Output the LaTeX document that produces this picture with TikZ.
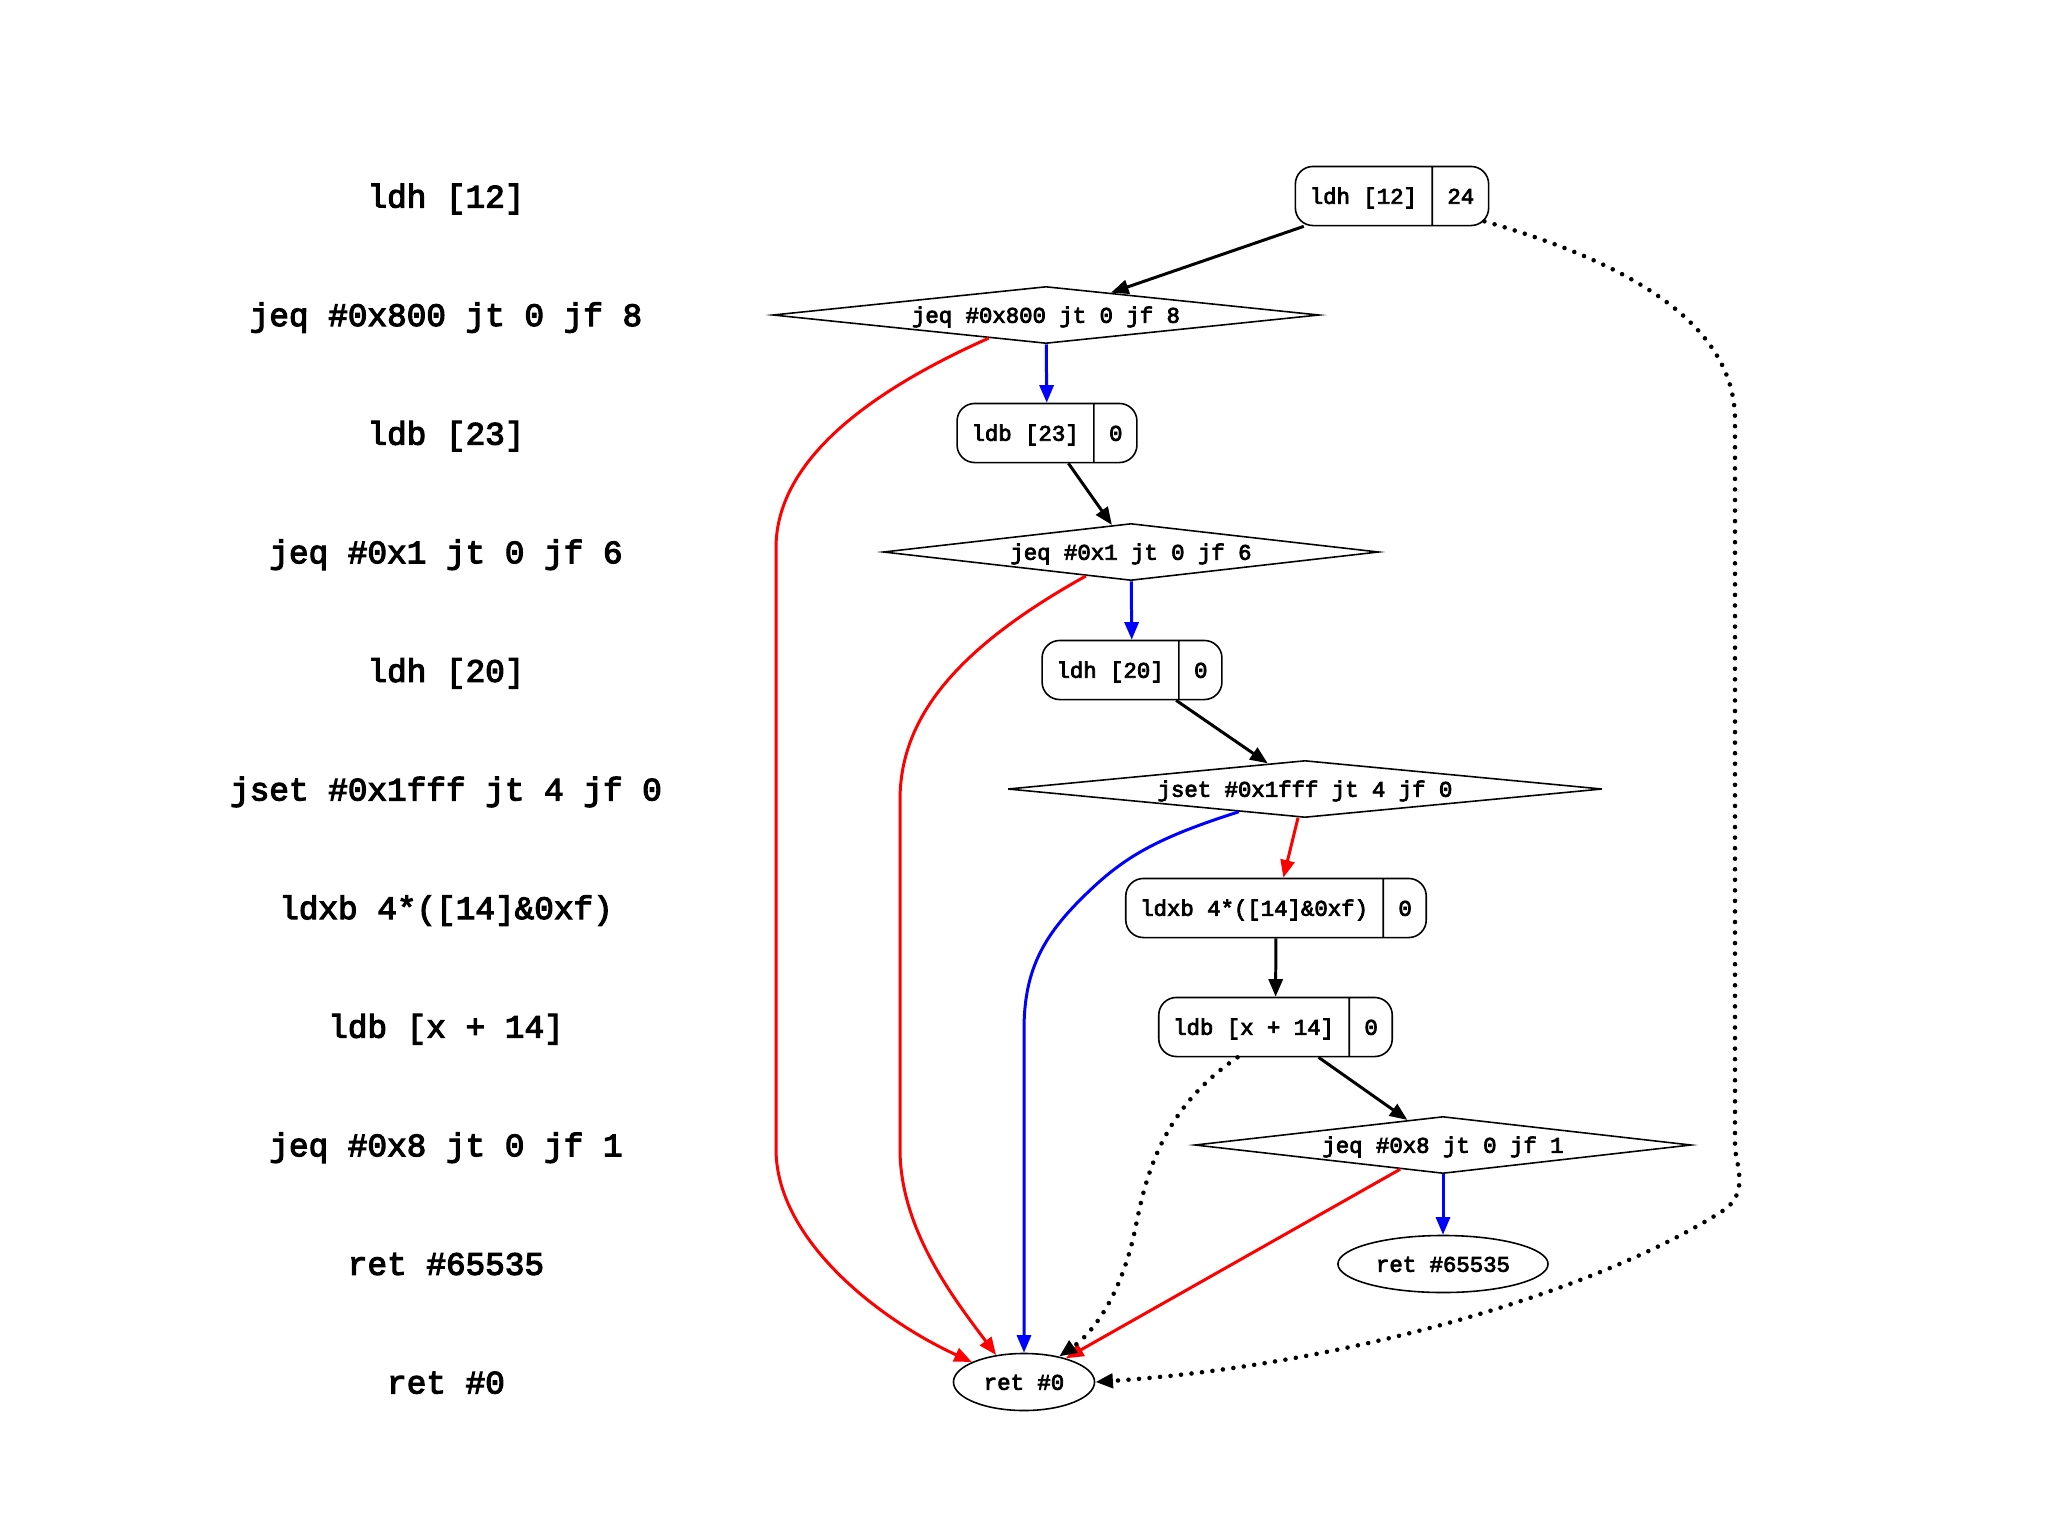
\documentclass[tikz,border=0pt]{standalone}
\usepackage{fontspec}
\setmonofont{Liberation Mono}[FakeBold=3.5]
\usetikzlibrary{shapes.geometric,shapes.multipart,arrows.meta,calc}

\newcommand{\nodefont}{\ttfamily\fontsize{6.35}{8}\selectfont}
\newcommand{\insnfont}{\ttfamily\fontsize{9.3}{11}\selectfont}
\newcommand{\pad}{\rule[-1.8pt]{0pt}{8pt}}

\begin{document}
\begin{tikzpicture}[x=0.01cm, y=-0.01cm,
    rec/.style={rectangle split, rectangle split horizontal, rectangle split parts=2,
      draw, rounded corners=5pt, inner xsep=4.1pt, inner ysep=4.4pt, line width=0.45pt, font=\nodefont},
    cond/.style={diamond, draw, aspect=9, inner sep=0pt, minimum height=0.57cm, text height=4.4pt,
      text depth=0pt, line width=0.45pt, font=\nodefont},
    leaf/.style={ellipse, draw, inner sep=0pt, minimum height=0.57cm, text height=4.4pt,
      text depth=0pt, line width=0.45pt, font=\nodefont},
    insn/.style={font=\insnfont, text height=6.5pt, text depth=0pt},
    flow/.style={-{Triangle[length=5pt,width=4pt]}, line width=0.85pt},
    tbranch/.style={flow, blue},
    fbranch/.style={flow, red},
    jump/.style={flow, dash pattern=on 0pt off 3pt, line cap=round, line width=1.3pt}]
  \useasboundingbox (0,0) rectangle (2048,1536);

  % listing on the left
  \foreach \txt [count=\i from 0] in {ldh [12], jeq \#0x800 jt 0 jf 8, ldb [23], jeq \#0x1 jt 0 jf 6,
      ldh [20], jset \#0x1fff jt 4 jf 0, ldxb 4*([14]\&0xf), ldb [x + 14], jeq \#0x8 jt 0 jf 1,
      ret \#65535, ret \#0}
    \node[insn] (l\i) at (446, 196+118.6*\i) {\txt};

  % blocks
  \node[rec] (ldh12) at (1392,196) {\pad ldh [12]\nodepart{two}\pad 24};
  \node[cond, minimum width=5.46cm] (jeq800) at (1046,315) {jeq \#0x800 jt 0 jf 8};
  \node[rec] (ldb23) at (1047,433) {\pad ldb [23]\nodepart{two}\pad 0};
  \node[cond, minimum width=4.95cm] (jeq1) at (1131,552) {jeq \#0x1 jt 0 jf 6};
  \node[rec] (ldh20) at (1132,670) {\pad ldh [20]\nodepart{two}\pad 0};
  \node[cond, minimum width=5.94cm] (jset) at (1305,789) {jset \#0x1fff jt 4 jf 0};
  \node[rec] (ldxb) at (1276,908) {\pad ldxb 4*([14]\&0xf)\nodepart{two}\pad 0};
  \node[rec] (ldb14) at (1275.5,1027) {\pad ldb [x + 14]\nodepart{two}\pad 0};
  \node[cond, minimum width=4.96cm] (jeq8) at (1443,1145) {jeq \#0x8 jt 0 jf 1};
  \node[leaf, minimum width=2.1cm] (accept) at (1443,1264) {ret \#65535};
  \node[leaf, minimum width=1.41cm] (drop) at (1024,1382) {ret \#0};

  % straight edges
  \draw[flow] (ldh12) -- (jeq800);
  \draw[tbranch] (jeq800) -- (ldb23);
  \draw[flow] (ldb23) -- (jeq1);
  \draw[tbranch] (jeq1) -- (ldh20);
  \draw[flow] (ldh20) -- (jset);
  \draw[fbranch] (jset) -- (ldxb);
  \draw[flow] (ldxb) -- (ldb14);
  \draw[flow] (ldb14) -- (jeq8);
  \draw[tbranch] (jeq8) -- (accept);
  \draw[fbranch] (jeq8) -- (drop);

  % long jumps to ret #0
  \draw[fbranch] (jeq800.202) .. controls (850,400) and (776,470) .. (776,548)
    -- (776,1149) .. controls (776,1240) and (880,1320) .. (drop.159);
  \draw[fbranch] (jeq1.208) .. controls (953,650) and (900,720) .. (900,800)
    -- (900,1149) .. controls (900,1230) and (955,1300) .. (drop.136);
  \draw[tbranch] (jset.199) .. controls (1150,840) and (1120,860) .. (1080,900)
    .. controls (1040,940) and (1024,975) .. (1024,1030) -- (drop);
  \draw[jump] ($(ldb14.south)+(-38,0)$) .. controls (1160,1110) and (1145,1180) .. (1135,1230)
    .. controls (1120,1300) and (1090,1335) .. (drop.36);
  \draw[jump] ($(ldh12.south east)+(-5,-5)$) .. controls (1620,260) and (1735,320) .. (1735,420)
    -- (1735,1150) .. controls (1740,1175) and (1745,1195) .. (1724,1210)
    .. controls (1600,1290) and (1350,1365) .. (drop.east);
\end{tikzpicture}
\end{document}
